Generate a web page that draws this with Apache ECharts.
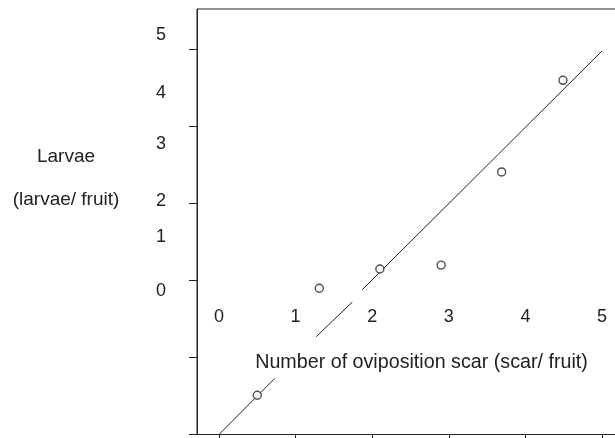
<!DOCTYPE html>
<html>
<head>
<meta charset="utf-8">
<script src="https://cdn.jsdelivr.net/npm/echarts@6/dist/echarts.min.js"></script>
<style>
  html, body { margin: 0; padding: 0; background: #fff; }
  #chart { width: 615px; height: 438px; }
</style>
</head>
<body>
<div id="chart"></div>
<script>
// observed points: oviposition scars vs larvae per fruit
const scars = [0.50, 1.31, 2.10, 2.90, 3.69, 4.49]
const larvae = [0.51, 1.90, 2.15, 2.20, 3.41, 4.60]

// fitted line, drawn in pieces (gaps where the text boxes cut it)
const fitSegments = [
  [[0, 0], [0.73, 0.73]],
  [[1.27, 1.27], [1.74, 1.72]],
  [[1.87, 1.88], [5, 4.98]]
]

const xTicks = [0, 1, 2, 3, 4, 5]
const yTicks = [0, 1, 2, 3, 4, 5]
// the y labels in the figure are printed off their ticks
const yLabels = ['5', '4', '3', '2', '1', '0']
const yLabelPos = [35.5, 93, 144, 201, 237.5, 291]

const yTitle = ['Larvae', '(larvae/ fruit)']
const xTitle = 'Number of oviposition scar (scar/ fruit)'

const ink = '#222'
const font = '"Liberation Sans", Arial, sans-serif'

const chart = echarts.init(document.getElementById('chart'))

const graphic = []
yLabels.forEach((t, i) => {
  graphic.push({
    type: 'text',
    style: {
      text: t, x: 161, y: yLabelPos[i],
      align: 'center', verticalAlign: 'middle',
      fontSize: 18, fontFamily: font, fill: ink
    }
  })
})
graphic.push({
  type: 'text',
  style: { text: yTitle[0], x: 66, y: 157, align: 'center', verticalAlign: 'middle', fontSize: 19, fontFamily: font, fill: ink }
})
graphic.push({
  type: 'text',
  style: { text: yTitle[1], x: 66, y: 200, align: 'center', verticalAlign: 'middle', fontSize: 19, fontFamily: font, fill: ink }
})
graphic.push({
  type: 'text',
  style: { text: xTitle, x: 421.5, y: 363, align: 'center', verticalAlign: 'middle', fontSize: 19.7, fontFamily: font, fill: ink }
})

const series = fitSegments.map(seg => ({
  type: 'line',
  data: seg,
  showSymbol: false,
  silent: true,
  lineStyle: { color: ink, width: 1 }
}))
series.push({
  type: 'scatter',
  data: scars.map((x, i) => [x, larvae[i]]),
  symbol: 'circle',
  symbolSize: 8,
  itemStyle: { color: '#fff', borderColor: ink, borderWidth: 1.4 },
  z: 5
})

chart.setOption({
  animation: false,
  backgroundColor: '#fff',
  grid: {
    left: 197,
    top: 9,
    right: -25.3,
    bottom: 3.5,
    show: true,
    borderColor: ink,
    borderWidth: 1,
    containLabel: false,
    outerBoundsMode: 'none'
  },
  xAxis: {
    type: 'value',
    min: -0.287,
    max: 5.5,
    splitLine: { show: false },
    axisLine: { onZero: false, lineStyle: { color: ink, width: 1 } },
    axisTick: { customValues: xTicks, length: 5, lineStyle: { color: ink } },
    axisLabel: {
      customValues: xTicks,
      margin: -126,
      fontSize: 18,
      fontFamily: font,
      color: ink
    }
  },
  yAxis: {
    type: 'value',
    min: 0,
    max: 5.526,
    splitLine: { show: false },
    axisLine: { show: true, onZero: false, lineStyle: { color: ink, width: 1 } },
    axisTick: { show: true, customValues: yTicks, length: 8, lineStyle: { color: ink } },
    axisLabel: { show: false }
  },
  graphic: graphic,
  series: series
})
</script>
</body>
</html>
